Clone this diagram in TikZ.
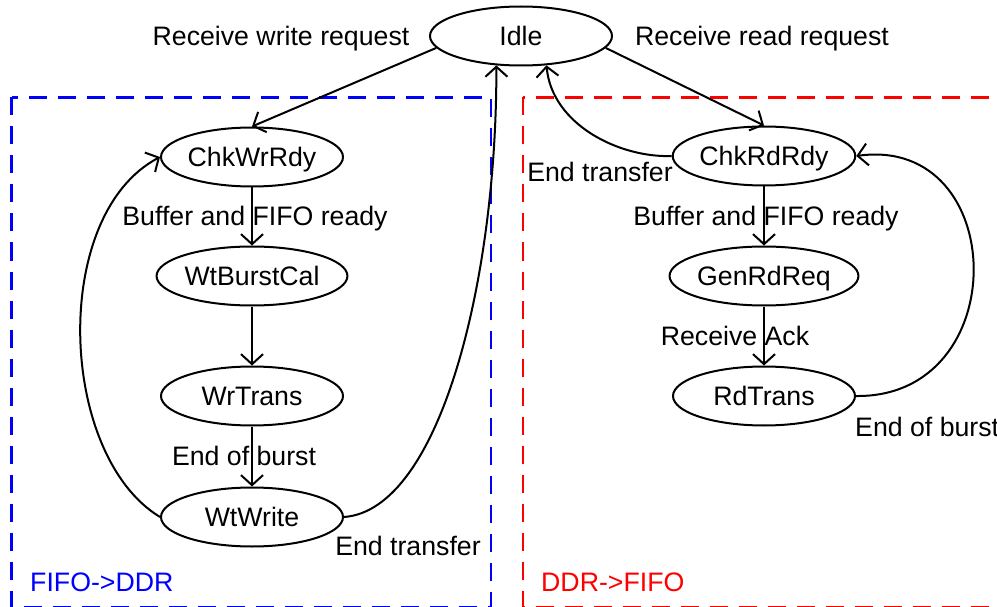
\documentclass[tikz,border=0pt]{standalone}
\usepackage{fontspec}
\setmainfont{Liberation Sans}
\usetikzlibrary{shapes.geometric,arrows.meta}
\begin{document}
\begin{tikzpicture}[x=1pt,y=1pt,
  every node/.style={text height=19pt, text depth=0pt, inner sep=0pt},
  state/.style={draw, ellipse, line width=2pt, minimum width=182pt, minimum height=59pt},
  trans/.style={line width=2pt, -{Straight Barb[length=10pt,width=22pt]}},
  region/.style={line width=2.5pt, dash pattern=on 18pt off 11pt},
  font=\fontsize{26.7}{32}\selectfont]
\useasboundingbox (0,0) rectangle (997,-607);

% dashed regions for the two transfer directions
\draw[region, blue] (11.5,-97.5) rectangle (491,-607);
\draw[region, red] (523,-97.5) rectangle (1015,-607);

% states
\node[state] (idle) at (521,-36) {Idle};
\node[state] (cwr) at (252,-157) {ChkWrRdy};
\node[state] (wbc) at (252,-276) {WtBurstCal};
\node[state] (wrt) at (252,-396) {WrTrans};
\node[state] (wtw) at (252,-517) {WtWrite};
\node[state] (crr) at (764,-156) {ChkRdRdy};
\node[state] (grr) at (764,-276) {GenRdReq};
\node[state] (rdt) at (764,-396) {RdTrans};

% transitions
\draw[trans] (idle.188) -- (cwr.north);
\draw[trans] (idle.-8) -- (crr.north);
\draw[trans] (cwr) -- (wbc);
\draw[trans] (wbc) -- (wrt);
\draw[trans] (wrt) -- (wtw);
\draw[trans] (wtw.west) .. controls (58,-455) and (50,-215) .. (cwr.west);
\draw[trans] (wtw.east) .. controls (440,-510) and (497,-280) .. (idle.230);
\draw[trans] (crr) -- (grr);
\draw[trans] (grr) -- (rdt);
\draw[trans] (rdt.east) .. controls (1015,-398) and (1010,-135) .. (crr.east);
\draw[trans] (crr.west) .. controls (620,-158) and (552,-125) .. (idle.-49);

% transition labels
\node (lwr) at (281,-36) {Receive write request};
\node (lrr) at (762,-36) {Receive read request};
\node (lbf1) at (255,-216) {Buffer and FIFO ready};
\node (leb1) at (244,-456) {End of burst};
\node (let1) at (408,-546) {End transfer};
\node (let2) at (600,-172) {End transfer};
\node (lbf2) at (766,-216) {Buffer and FIFO ready};
\node (lack) at (735,-336) {Receive Ack};
\node[anchor=west] (leb2) at (855,-427) {End of burst};

% region titles
\node[blue, anchor=west] (tw) at (30,-582) {FIFO->DDR};
\node[red, anchor=west] (tr) at (541,-582) {DDR->FIFO};
\end{tikzpicture}
\end{document}
